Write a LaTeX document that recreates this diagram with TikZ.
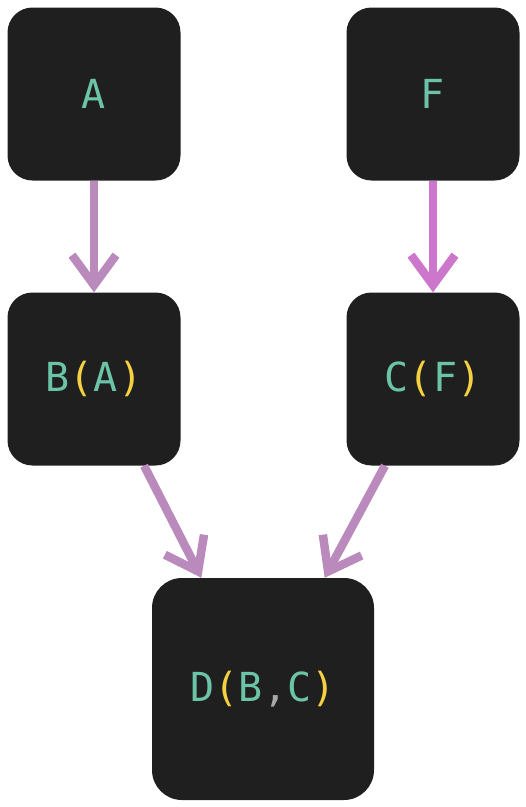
\documentclass[tikz,border=0pt]{standalone}
\usepackage{fontspec}
\newfontfamily\codefont{DejaVu Sans Mono}
\usetikzlibrary{arrows.meta}
\definecolor{boxbg}{HTML}{1F1F1F}
\definecolor{teal}{HTML}{6CC4A8}
\definecolor{paren}{HTML}{F5D142}
\definecolor{comma}{HTML}{A8A8A8}
\definecolor{arrowA}{HTML}{BB8ABD}
\definecolor{arrowB}{HTML}{CC77CC}
\newcommand{\yp}[1]{\textcolor{paren}{#1}}
\begin{document}
\begin{tikzpicture}[x=1pt,y=-1pt,
  box/.style={fill=boxbg, rounded corners=25pt, minimum width=173pt, minimum height=173pt,
    inner sep=0pt, text=teal, font=\codefont\fontsize{40}{48}\selectfont},
  bigbox/.style={box, rounded corners=30pt, minimum width=222pt, minimum height=222pt},
  link/.style={line width=8.5pt, -{Straight Barb[length=30pt,width=44pt]}}]
\useasboundingbox (0,0) rectangle (526,807);
\node[box] (A) at (94,94) {A};
\node[box] (F) at (433,94) {F};
\node[box] (B) at (94,379) {B\yp{(}A\yp{)}};
\node[box] (C) at (433,379) {C\yp{(}F\yp{)}};
\node[bigbox] (D) at (263,689) {D\yp{(}B\textcolor{comma}{,}C\yp{)}};
\draw[link, arrowA] (A.south) -- (B.north);
\draw[link, arrowB] (F.south) -- (C.north);
\draw[link, arrowA] (B.-60.3) -- (D.119);
\draw[link, arrowA] (C.-119.2) -- (D.61);
\end{tikzpicture}
\end{document}
